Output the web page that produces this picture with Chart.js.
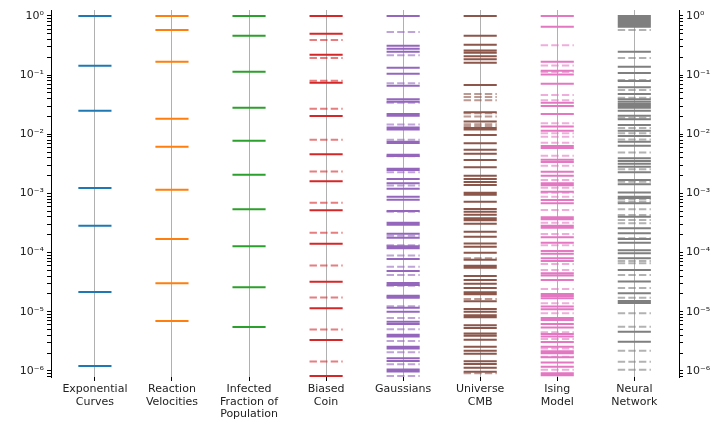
<!DOCTYPE html>
<html>
<head>
<meta charset="utf-8">
<script src="https://cdn.jsdelivr.net/npm/chart.js@4.4.1/dist/chart.umd.min.js"></script>
<style>
  html, body { margin: 0; padding: 0; background: #fff; }
  #wrap { width: 713px; height: 422px; }
</style>
</head>
<body>
<div id="wrap"><canvas id="spectra"></canvas></div>
<script>
// Normalised eigenvalue spectra, one column per model
const categories = [
  ['Exponential', 'Curves'],
  ['Reaction', 'Velocities'],
  ['Infected', 'Fraction of', 'Population'],
  ['Biased', 'Coin'],
  ['Gaussians'],
  ['Universe', 'CMB'],
  ['Ising', 'Model'],
  ['Neural', 'Network']
];
const colours = ['#1f77b4', '#ff7f0e', '#2ca02c', '#d62728', '#9467bd', '#8c564b', '#e377c2', '#7f7f7f'];

const expCurves = [1.0, 0.144, 0.025, 1.24e-3, 2.83e-4, 2.16e-5, 1.21e-6];
const reactionVelocities = [1.0, 0.58, 0.169, 0.0183, 6.15e-3, 1.15e-3, 1.69e-4, 3.03e-5, 7.0e-6];
const infectedFraction = [1.0, 0.464, 0.114, 0.0281, 7.76e-3, 2.06e-3, 5.42e-4, 1.28e-4, 2.6e-5, 5.53e-6];

const coinSolid = [1.0, 0.502, 0.222, 0.0744, 0.0203, 4.62e-3, 1.61e-3, 5.21e-4, 1.41e-4, 3.2e-5, 1.15e-5, 3.34e-6, 8.2e-7];
const coinDashed = [0.393, 0.195, 0.0805, 0.027, 8.07e-3, 2.35e-3, 6.95e-4, 2.16e-4, 6.05e-5, 1.74e-5, 5.0e-6, 1.44e-6];

const gaussSolid = [1.0, 0.315, 0.28, 0.249, 0.134, 0.106, 0.0664, 0.039, 0.0356, 0.022, 0.0206, 0.013, 0.012,
  7.5e-3, 7.1e-3, 4.5e-3, 4.3e-3, 2.62e-3, 2.49e-3, 1.75e-3, 1.48e-3, 1.2e-3, 8.8e-4, 7.85e-4, 5.05e-4,
  3.2e-4, 2.96e-4, 2.09e-4, 1.79e-4, 1.28e-4, 1.18e-4, 7.8e-5, 4.89e-5, 3.06e-5, 2.83e-5, 1.87e-5, 1.73e-5,
  1.17e-5, 1.0e-5, 6.8e-6, 6.2e-6, 4.1e-6, 3.8e-6, 2.57e-6, 2.38e-6, 1.63e-6, 1.47e-6, 1.06e-6, 9.8e-7];
const gaussDashed = [0.537, 0.216, 0.0727, 0.0343, 0.0146, 8.1e-3, 4.24e-3, 2.28e-3, 1.36e-3, 4.92e-4, 1.93e-4,
  1.33e-4, 8.9e-5, 5.78e-5, 4.18e-5, 2.76e-5, 1.8e-5, 1.24e-5, 7.8e-6, 5.05e-6, 3.2e-6, 2.06e-6, 1.29e-6, 8.2e-7];

const cmbSolid = [1.0, 0.465, 0.328, 0.26, 0.24, 0.208, 0.185, 0.1625, 0.068, 0.0235, 0.0164, 0.0128, 0.012,
  9.73e-3, 7.04e-3, 5.5e-3, 4.7e-3, 3.68e-3, 2.77e-3, 2.0e-3, 1.75e-3, 1.56e-3, 1.39e-3, 1.03e-3, 9.5e-4,
  7.27e-4, 5.46e-4, 4.92e-4, 4.38e-4, 3.8e-4, 3.52e-4, 3.08e-4, 2.26e-4, 1.86e-4, 1.43e-4, 1.26e-4, 9.97e-5,
  7.6e-5, 6.0e-5, 5.56e-5, 4.02e-5, 3.44e-5, 2.98e-5, 2.52e-5, 2.13e-5, 1.97e-5, 1.5e-5, 1.11e-5, 1.0e-5,
  8.7e-6, 8.04e-6, 5.9e-6, 5.3e-6, 4.3e-6, 3.94e-6, 3.37e-6, 2.57e-6, 2.2e-6, 1.95e-6, 1.45e-6, 1.31e-6,
  1.13e-6, 9.7e-7];
const cmbDashed = [0.048, 0.0427, 0.0375, 0.0226, 0.0199, 0.0148, 0.0138, 8.0e-5, 1.64e-5, 9.1e-7];

const isingSolid = [1.0, 0.66, 0.169, 0.119, 0.103, 0.0718, 0.0343, 0.0301, 0.022, 0.0135, 0.0115, 6.34e-3,
  5.86e-3, 3.72e-3, 3.4e-3, 2.33e-3, 2.0e-3, 1.48e-3, 1.37e-3, 1.07e-3, 7.75e-4, 6.8e-4, 3.95e-4, 3.65e-4,
  2.85e-4, 2.64e-4, 1.81e-4, 1.47e-4, 1.06e-4, 9.6e-5, 8.0e-5, 7.2e-5, 4.46e-5, 4.08e-5, 3.44e-5, 2.0e-5,
  1.85e-5, 1.69e-5, 1.22e-5, 1.1e-5, 7.8e-6, 7.25e-6, 6.2e-6, 5.4e-6, 4.2e-6, 3.8e-6, 3.08e-6, 2.57e-6,
  2.14e-6, 1.98e-6, 1.7e-6, 1.38e-6, 1.18e-6, 9.1e-7, 8.4e-7];
const isingDashed = [0.319, 0.145, 0.113, 0.0462, 0.0375, 0.0153, 0.0104, 9.1e-3, 7.2e-3, 4.35e-3, 2.95e-3,
  1.69e-3, 1.25e-3, 1.03e-3, 8.8e-4, 5.25e-4, 3.2e-4, 2.06e-4, 1.33e-4, 6.4e-5, 5.08e-5, 2.43e-5, 1.39e-5,
  9.4e-6, 4.49e-6, 3.46e-6, 2.4e-6, 1.74e-6, 1.04e-6];

const nnSolid = [1.0, 0.93, 0.87, 0.81, 0.76, 0.71, 0.66, 0.249, 0.139, 0.109, 0.0796, 0.0622, 0.048, 0.039,
  0.0356, 0.0325, 0.030, 0.0282, 0.0251, 0.0206, 0.0179, 0.0144, 0.0115, 9.36e-3, 7.5e-3, 6.43e-3, 3.92e-3,
  3.54e-3, 3.19e-3, 2.84e-3, 2.28e-3, 1.69e-3, 1.43e-3, 1.04e-3, 8.8e-4, 8.4e-4, 6.8e-4, 4.05e-4, 2.57e-4,
  2.12e-4, 1.7e-4, 1.47e-4, 1.1e-4, 9.7e-5, 8.0e-5, 5.08e-5, 3.23e-5, 2.05e-5, 1.52e-5, 1.41e-5, 4.6e-6, 3.12e-6];
const nnDashed = [0.58, 0.195, 0.083, 0.056, 0.0416, 0.0191, 0.0128, 0.0104, 8.2e-3, 4.9e-3, 2.56e-3, 1.58e-3,
  7.96e-4, 7.27e-4, 5.4e-4, 4.32e-4, 3.56e-4, 3.12e-4, 1.74e-4, 7.2e-5, 6.6e-5, 4.18e-5, 2.52e-5, 1.73e-5,
  9.4e-6, 5.6e-6, 2.2e-6, 1.43e-6, 1.04e-6];

const solidSeries = [expCurves, reactionVelocities, infectedFraction, coinSolid, gaussSolid, cmbSolid, isingSolid, nnSolid];
const dashedSeries = [[], [], [], coinDashed, gaussDashed, cmbDashed, isingDashed, nnDashed];

const majorTicks = [1, 1e-1, 1e-2, 1e-3, 1e-4, 1e-5, 1e-6];
const majorLabels = ['10\u2070', '10\u207b\u00b9', '10\u207b\u00b2', '10\u207b\u00b3', '10\u207b\u2074', '10\u207b\u2075', '10\u207b\u2076'];

const Y_MIN = 7.88e-7, Y_MAX = 1.263;
const HALF = 0.215;   // half-width of each level marker, in column units

// one short horizontal segment per eigenvalue, broken by nulls
function levels(col, vals) {
  const pts = [];
  vals.forEach(v => { pts.push({ x: col - HALF, y: v }, { x: col + HALF, y: v }, { x: col, y: null }); });
  return pts;
}

function fade(hex, a) {
  const n = parseInt(hex.slice(1), 16);
  return `rgba(${n >> 16},${(n >> 8) & 255},${n & 255},${a})`;
}

const datasets = [];
solidSeries.forEach((vals, i) => {
  datasets.push({
    data: levels(i, vals),
    borderColor: colours[i], borderWidth: 2, borderCapStyle: 'butt',
    pointRadius: 0, spanGaps: false, yAxisID: 'y'
  });
  if (dashedSeries[i].length) {
    datasets.push({
      data: levels(i, dashedSeries[i]),
      borderColor: fade(colours[i], 0.6), borderWidth: 2, borderCapStyle: 'butt',
      borderDash: [7.4, 3.2],
      pointRadius: 0, spanGaps: false, yAxisID: 'y'
    });
  }
});

function logTicks(scale) {
  const ticks = [];
  for (let e = -7; e <= 0; e++) {
    for (let m = 1; m <= 9; m++) {
      const v = m * Math.pow(10, e);
      if (v >= Y_MIN && v <= Y_MAX) ticks.push({ value: v });
    }
  }
  scale.ticks = ticks;
}

function logLabel(value) {
  const k = majorTicks.findIndex(t => Math.abs(value - t) / t < 1e-6);
  return k >= 0 ? majorLabels[k] : '';
}

const tickFont = { family: 'DejaVu Sans', size: 11 };

const yAxis = (pos, width) => ({
  type: 'logarithmic', position: pos, min: Y_MIN, max: Y_MAX,
  afterBuildTicks: logTicks,
  afterFit: s => { s.width = width; },
  border: { display: true, color: '#000', width: 1 },
  grid: { drawOnChartArea: false, drawTicks: true, tickLength: 4, tickColor: '#000', tickWidth: 1 },
  ticks: { autoSkip: false, padding: 3, color: '#222', font: tickFont, callback: logLabel }
});

new Chart(document.getElementById('spectra'), {
  type: 'line',
  data: { datasets },
  options: {
    responsive: true, maintainAspectRatio: false, animation: false,
    layout: { padding: { top: 10, left: 0, right: 0, bottom: 0 } },
    plugins: { legend: { display: false }, tooltip: { enabled: false } },
    scales: {
      x: {
        type: 'linear', min: -0.57, max: 7.58,
        afterBuildTicks: s => { s.ticks = categories.map((c, i) => ({ value: i })); },
        afterFit: s => { s.height = 45; },
        border: { display: false },
        grid: { color: '#b0b0b0', lineWidth: 1, drawTicks: true, tickLength: 4, tickColor: '#000', tickWidth: 1 },
        ticks: {
          autoSkip: false, maxRotation: 0, padding: 2, color: '#222',
          font: { family: 'DejaVu Sans', size: 11, lineHeight: 1.13 },
          callback: v => categories[v]
        }
      },
      y: yAxis('left', 51),
      yRight: yAxis('right', 34)
    }
  }
});
</script>
</body>
</html>
